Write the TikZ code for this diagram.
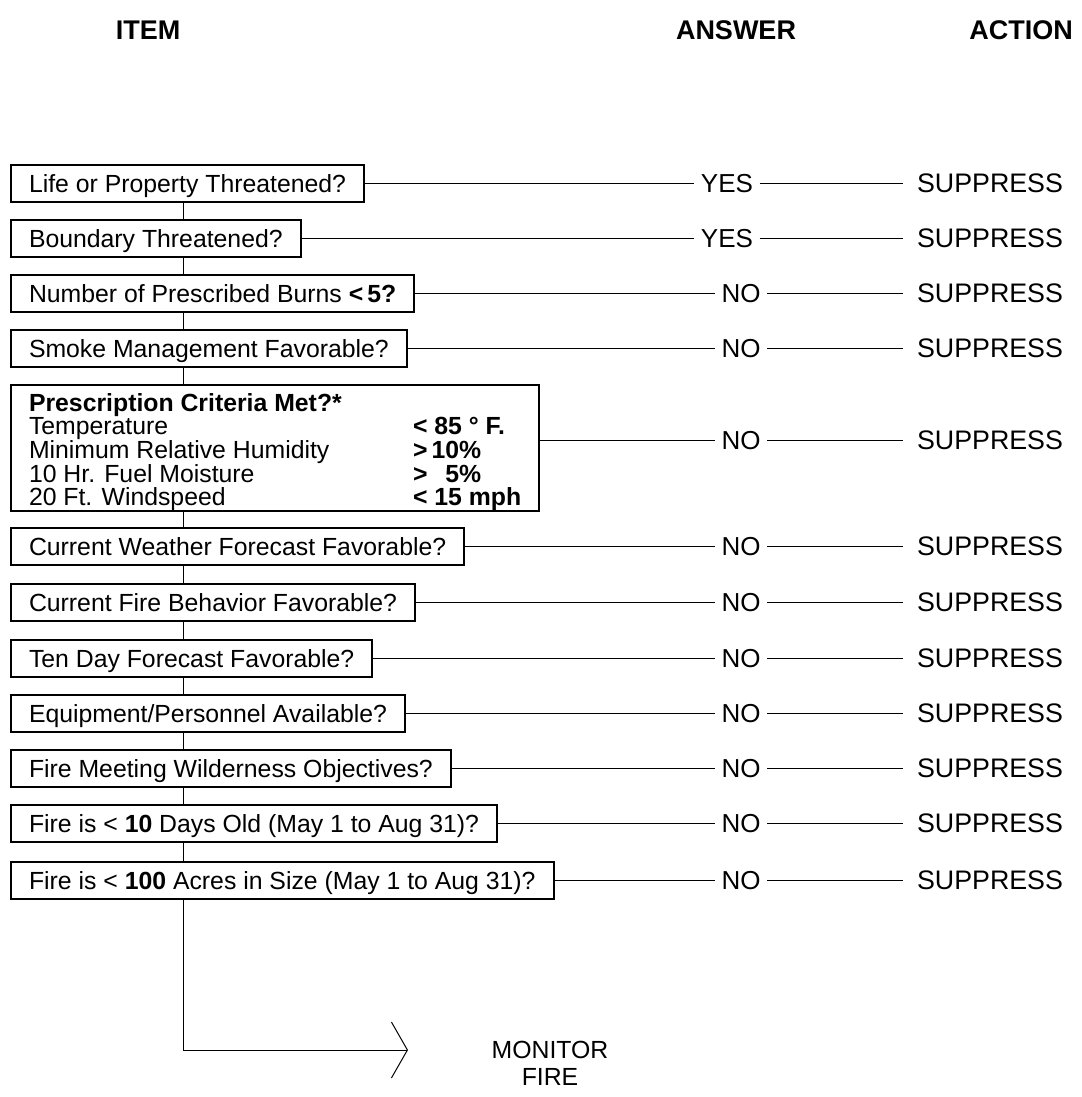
\documentclass[tikz,border=0pt]{standalone}
\usepackage{fontspec}
\setmainfont{Liberation Sans}
\usetikzlibrary{arrows.meta}
\newcommand{\tightlines}{\lineskiplimit=-6pt\relax\lineskip=0pt\relax}

\begin{document}
\begin{tikzpicture}[x=0.5pt, y=-0.5pt, line width=0.5pt,
  every node/.style={font=\fontsize{12.4}{11.6}\selectfont},
  head/.style={font=\fontsize{13.5}{16}\selectfont\bfseries},
  item/.style={draw, line width=1pt, anchor=west, inner xsep=9pt, inner ysep=1pt,
    minimum height=18.5pt, text height=11pt, text depth=1.1pt},
  criteria/.style={item, align=left, text height=, text depth=, inner ysep=0pt,
    font=\fontsize{12.4}{11.8}\selectfont},
  answer/.style={inner xsep=3pt, text height=9.4pt, text depth=0pt, font=\fontsize{13}{15}\selectfont},
  action/.style={inner xsep=7pt, text height=9.6pt, text depth=0pt, font=\fontsize{13.4}{15}\selectfont},
  barb/.style={-{Straight Barb[length=8pt,width=28pt]}}]

\useasboundingbox (0,0) rectangle (1081,1097);

% column heads
\node[head] (h-item) at (148,30) {ITEM};
\node[head] (h-answer) at (736,30) {ANSWER};
\node[head] (h-action) at (1021,30) {ACTION};

\coordinate (spine) at (183,0);

% questions
\foreach \i/\y/\t in {1/183/{Life or Property Threatened?},
                      2/238/{Boundary Threatened?},
                      3/293/{Number of Prescribed Burns \textbf{<\,5?}},
                      4/348/{Smoke Management Favorable?},
                      6/546/{Current Weather Forecast Favorable?},
                      7/602/{Current Fire Behavior Favorable?},
                      8/658/{Ten Day Forecast Favorable?},
                      9/713/{Equipment/Personnel Available?},
                      10/768/{Fire Meeting Wilderness Objectives?},
                      11/823/{Fire is < \textbf{10} Days Old (May 1 to Aug 31)?},
                      12/880/{Fire is < \textbf{100} Acres in Size (May 1 to Aug 31)?}}
  \node[item] (q-\i) at (10,\y) {\t};

\node[criteria] (q-5) at (10,448) {\tightlines
  \rule{0pt}{13pt}\textbf{Prescription Criteria Met?*}\\
  \makebox[192pt][l]{Temperature}\textbf{< 85 ° F.}\\
  \makebox[192pt][l]{Minimum Relative Humidity}\textbf{>\,10\%}\\
  \makebox[192pt][l]{10 Hr. Fuel Moisture}\textbf{>\,\phantom{1}5\%}\\
  \makebox[192pt][l]{20 Ft. Windspeed}\textbf{< 15 mph}};

% answers and actions
\foreach \i/\y/\a/\x in {1/183/YES/727,2/238/YES/727,3/293/NO/741,4/348/NO/741,
                      5/440/NO/741,6/546/NO/741,7/602/NO/741,8/658/NO/741,
                      9/713/NO/741,10/768/NO/741,11/823/NO/741,12/880/NO/741} {
  \node[answer] (a-\i) at (\x,\y) {\a};
  \node[action] (s-\i) at (990,\y) {SUPPRESS};
  \draw (a-\i) -- (s-\i);
}

\foreach \i in {1,2,3,4,6,7,8,9,10,11,12}
  \draw (q-\i) -- (a-\i);
\draw (q-5.east |- a-5) -- (a-5);

% chain between the boxes
\foreach \i/\j in {1/2,2/3,3/4,4/5,5/6,6/7,7/8,8/9,9/10,10/11,11/12}
  \draw (q-\i.south -| spine) -- (q-\j.north -| spine);

% way out
\coordinate (tip) at (408,1050);
\draw[barb] (q-12.south -| spine) |- (tip);
\node[align=center, font=\fontsize{12.4}{13.5}\selectfont] (monitor) at (550,1063) {MONITOR\\FIRE};

\end{tikzpicture}
\end{document}
